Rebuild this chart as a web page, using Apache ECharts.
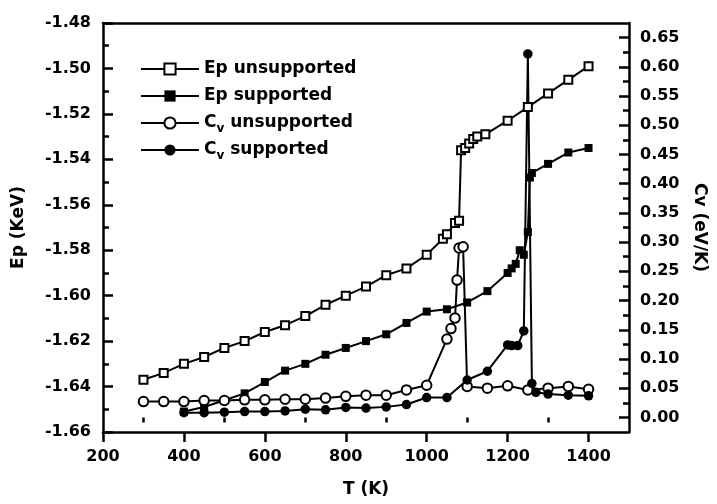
<!DOCTYPE html>
<html>
<head>
<meta charset="utf-8">
<style>
  html, body { margin: 0; padding: 0; background: #fff; }
  #chart { width: 717px; height: 504px; }
</style>
<script src="https://cdn.jsdelivr.net/npm/echarts@6/dist/echarts.min.js"></script>
</head>
<body>
<div id="chart"></div>
<script>
// temperature (K) and values
const T_EP_UNSUP = [300, 350, 400, 450, 500, 550, 600, 650, 700, 750, 800, 850, 900, 950, 1000,
  1040, 1050, 1070, 1080, 1085, 1095, 1105, 1115, 1125, 1145, 1200, 1250, 1300, 1350, 1400];
const EP_UNSUP = [-1.637, -1.634, -1.630, -1.627, -1.623, -1.620, -1.616, -1.613, -1.609, -1.604,
  -1.600, -1.596, -1.591, -1.588, -1.582, -1.575, -1.573, -1.568, -1.567, -1.536, -1.535, -1.533,
  -1.531, -1.530, -1.529, -1.523, -1.517, -1.511, -1.505, -1.499];

const T_EP_SUP = [400, 450, 500, 550, 600, 650, 700, 750, 800, 850, 900, 950, 1000, 1050, 1100, 1150,
  1200, 1210, 1220, 1230, 1240, 1250, 1255, 1260, 1300, 1350, 1400];
const EP_SUP = [-1.651, -1.649, -1.646, -1.643, -1.638, -1.633, -1.630, -1.626, -1.623, -1.620,
  -1.617, -1.612, -1.607, -1.606, -1.603, -1.598, -1.590, -1.588, -1.586, -1.580, -1.582, -1.572,
  -1.548, -1.546, -1.542, -1.537, -1.535];

const T_CV_UNSUP = [300, 350, 400, 450, 500, 550, 600, 650, 700, 750, 800, 850, 900, 950, 1000,
  1050, 1060, 1070, 1075, 1080, 1090, 1100, 1150, 1200, 1250, 1300, 1350, 1400];
const CV_UNSUP = [0.027, 0.027, 0.027, 0.029, 0.029, 0.030, 0.030, 0.031, 0.031, 0.033, 0.036,
  0.038, 0.038, 0.047, 0.055, 0.134, 0.152, 0.170, 0.235, 0.290, 0.292, 0.053, 0.050, 0.054,
  0.047, 0.050, 0.053, 0.048];

const T_CV_SUP = [400, 450, 500, 550, 600, 650, 700, 750, 800, 850, 900, 950, 1000, 1050, 1100,
  1150, 1200, 1210, 1225, 1240, 1250, 1260, 1270, 1300, 1350, 1400];
const CV_SUP = [0.008, 0.008, 0.009, 0.010, 0.010, 0.011, 0.014, 0.013, 0.017, 0.016, 0.018,
  0.022, 0.034, 0.034, 0.064, 0.079, 0.124, 0.123, 0.123, 0.148, 0.622, 0.058, 0.043, 0.040,
  0.038, 0.037];

// tick positions
const X_MAJOR = [200, 400, 600, 800, 1000, 1200, 1400];
const X_MINOR = [300, 500, 700, 900, 1100, 1300];
const CV_MAJOR = [0, 0.05, 0.10, 0.15, 0.20, 0.25, 0.30, 0.35, 0.40, 0.45, 0.50, 0.55, 0.60, 0.65];
const CV_MINOR = [0.025, 0.075, 0.125, 0.175, 0.225, 0.275, 0.325, 0.375, 0.425, 0.475, 0.525,
  0.575, 0.625];

const zip = (xs, ys) => xs.map((x, i) => [x, ys[i]]);

const FONT = 'DejaVu Sans';
const lbl = { color: '#000', fontFamily: FONT, fontWeight: 'bold', fontSize: 16 };
const title = { color: '#000', fontFamily: FONT, fontWeight: 'bold', fontSize: 17 };
const axLine = { show: true, onZero: false, lineStyle: { color: '#000', width: 2.5 } };
const tickStyle = { color: '#000', width: 2.5 };
const GRID = { left: 103, right: 88, top: 23, bottom: 72 };

const chart = echarts.init(document.getElementById('chart'));

function lineSeries(name, sym, size, data, yIdx) {
  return {
    name: name, type: 'line', data: data, xAxisIndex: 0, yAxisIndex: yIdx,
    symbol: sym, symbolSize: size, showAllSymbol: true,
    color: '#000',
    lineStyle: { color: '#000', width: 2 },
    animation: false
  };
}

chart.setOption({
  backgroundColor: '#fff',
  animation: false,
  // second grid on the same spot only carries the minor ticks
  grid: [Object.assign({}, GRID), Object.assign({}, GRID)],
  legend: {
    orient: 'vertical', left: 140, top: 57, padding: 0,
    itemWidth: 58, itemHeight: 14, itemGap: 3,
    data: ['Ep unsupported', 'Ep supported', 'Cv unsupported', 'Cv supported'],
    formatter: function (n) {
      if (n.indexOf('Cv') === 0) return '{c|C}{s|v}{c|' + n.slice(2) + '}';
      return '{c|' + n + '}';
    },
    textStyle: {
      color: '#000', fontFamily: FONT, fontWeight: 'bold', fontSize: 17, lineHeight: 24,
      rich: {
        c: { color: '#000', fontFamily: FONT, fontWeight: 'bold', fontSize: 17, lineHeight: 24 },
        s: { color: '#000', fontFamily: FONT, fontWeight: 'bold', fontSize: 12, lineHeight: 10,
             verticalAlign: 'bottom' }
      }
    }
  },
  xAxis: [{
    gridIndex: 0, type: 'value', min: 200, max: 1500, interval: 200, position: 'bottom',
    name: 'T (K)', nameLocation: 'middle', nameGap: 49, nameTextStyle: title,
    axisLine: axLine,
    axisTick: { show: true, inside: false, length: 10, customValues: X_MAJOR, lineStyle: tickStyle },
    axisLabel: Object.assign({ margin: 17, customValues: X_MAJOR, formatter: v => String(v) }, lbl),
    splitLine: { show: false }
  }, {
    gridIndex: 0, type: 'value', min: 200, max: 1500, position: 'top',
    axisLine: axLine, axisTick: { show: false }, axisLabel: { show: false },
    splitLine: { show: false }
  }, {
    gridIndex: 1, type: 'value', min: 200, max: 1500, position: 'bottom',
    axisLine: { show: false },
    axisTick: { show: true, inside: false, length: 5, customValues: X_MINOR, lineStyle: tickStyle },
    axisLabel: { show: false }, splitLine: { show: false }
  }],
  yAxis: [{
    gridIndex: 0, type: 'value', min: -1.66, max: -1.48, interval: 0.02, position: 'left',
    name: 'Ep (KeV)', nameLocation: 'middle', nameGap: 76, nameRotate: 90, nameTextStyle: title,
    axisLine: axLine,
    axisTick: { show: true, inside: true, length: 10, lineStyle: tickStyle },
    minorTick: { show: true, splitNumber: 2, length: 6, lineStyle: tickStyle },
    axisLabel: Object.assign({ margin: 12, formatter: v => v.toFixed(2) }, lbl),
    splitLine: { show: false }
  }, {
    gridIndex: 0, type: 'value', min: -0.025, max: 0.675, position: 'right',
    name: 'Cv (eV/K)', nameLocation: 'middle', nameGap: 62, nameRotate: -90, nameTextStyle: title,
    axisLine: axLine,
    axisTick: { show: true, inside: true, length: 10, customValues: CV_MAJOR, lineStyle: tickStyle },
    axisLabel: Object.assign({ margin: 11, customValues: CV_MAJOR, formatter: v => v.toFixed(2) }, lbl),
    splitLine: { show: false }
  }, {
    gridIndex: 1, type: 'value', min: -0.025, max: 0.675, position: 'right',
    axisLine: { show: false },
    axisTick: { show: true, inside: true, length: 6, customValues: CV_MINOR, lineStyle: tickStyle },
    axisLabel: { show: false }, splitLine: { show: false }
  }],
  series: [
    lineSeries('Ep unsupported', 'emptyRect', 8, zip(T_EP_UNSUP, EP_UNSUP), 0),
    lineSeries('Ep supported', 'rect', 8, zip(T_EP_SUP, EP_SUP), 0),
    lineSeries('Cv unsupported', 'emptyCircle', 9.5, zip(T_CV_UNSUP, CV_UNSUP), 1),
    lineSeries('Cv supported', 'circle', 9.5, zip(T_CV_SUP, CV_SUP), 1)
  ]
});
</script>
</body>
</html>
